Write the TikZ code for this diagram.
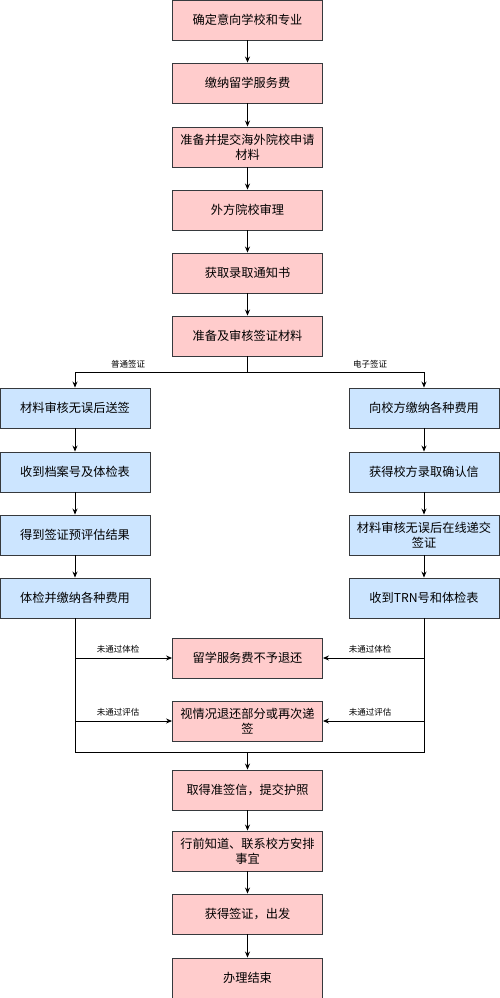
\documentclass[tikz,border=0pt]{standalone}
\usepackage{fontspec}
\setmainfont{Noto Sans CJK SC}
\usetikzlibrary{arrows.meta}
\definecolor{redfill}{HTML}{FFCCCC}
\definecolor{bluefill}{HTML}{CCE5FF}
\definecolor{edge}{HTML}{36393D}

\begin{document}
\begin{tikzpicture}[x=1pt,y=-1pt,
  box/.style={draw=edge,line width=0.9pt,minimum width=150pt,minimum height=40pt,
    align=center,font=\fontsize{12.2}{15}\selectfont,inner sep=1pt},
  redbox/.style={box,fill=redfill},
  bluebox/.style={box,fill=bluefill},
  arr/.style={line width=0.8pt,-{Stealth[length=6pt,width=5pt]}},
  lin/.style={line width=0.8pt},
  lbl/.style={font=\fontsize{8.5}{10}\selectfont}]

\useasboundingbox (0,0) rectangle (500,998);

% Haut
\node[redbox] (c1) at (247.5,20) {确定意向学校和专业};
\node[redbox] (c2) at (247.5,83) {缴纳留学服务费};
\node[redbox] (c3) at (247.5,147) {准备并提交海外院校申请\\材料};
\node[redbox] (c4) at (247.5,210) {外方院校审理};
\node[redbox] (c5) at (247.5,273) {获取录取通知书};
\node[redbox] (c6) at (247.5,336) {准备及审核签证材料};

\draw[arr] (c1) -- (c2);
\draw[arr] (c2) -- (c3);
\draw[arr] (c3) -- (c4);
\draw[arr] (c4) -- (c5);
\draw[arr] (c5) -- (c6);

%普通签证
\node[bluebox] (l1) at (75,408) {材料审核无误后送签};
\node[bluebox] (l2) at (75,472) {收到档案号及体检表};
\node[bluebox] (l3) at (75,535) {得到签证预评估结果};
\node[bluebox] (l4) at (75,598) {体检并缴纳各种费用};

% 电子签证
\node[bluebox] (r1) at (424,408) {向校方缴纳各种费用};
\node[bluebox] (r2) at (424,472) {获得校方录取确认信};
\node[bluebox] (r3) at (424,535) {材料审核无误后在线递交\\签证};
\node[bluebox] (r4) at (424,598) {收到TRN号和体检表};

\coordinate (split) at (247.5,372);
\draw[lin] (c6) -- (split);
\draw[arr] (split) -| (l1);
\draw[arr] (split) -| (r1);
\node[lbl] (tl) at (128,364) {普通签证};
\node[lbl] (tr) at (370,364) {电子签证};

\draw[arr] (l1) -- (l2);
\draw[arr] (l2) -- (l3);
\draw[arr] (l3) -- (l4);
\draw[arr] (r1) -- (r2);
\draw[arr] (r2) -- (r3);
\draw[arr] (r3) -- (r4);

% Refus
\node[redbox] (m1) at (247.5,658) {留学服务费不予退还};
\node[redbox] (m2) at (247.5,721) {视情况退还部分或再次递\\签};

\coordinate (join) at (247.5,752);
\coordinate (lj) at (75,752);
\coordinate (rj) at (424,752);
\draw[lin] (l4) -- (lj) -- (rj) -- (r4);

\coordinate (la) at (75,658);
\coordinate (lb) at (75,721);
\coordinate (ra) at (424,658);
\coordinate (rb) at (424,721);
\draw[arr] (la) -- (m1);
\draw[arr] (lb) -- (m2);
\draw[arr] (ra) -- (m1);
\draw[arr] (rb) -- (m2);

\node[lbl] (t1) at (118,649) {未通过体检};
\node[lbl] (t2) at (118,712) {未通过评估};
\node[lbl] (t3) at (370,649) {未通过体检};
\node[lbl] (t4) at (370,712) {未通过评估};

% Bas
\node[redbox] (c7) at (247.5,790) {取得准签信，提交护照};
\node[redbox] (c8) at (247.5,851) {行前知道、联系校方安排\\事宜};
\node[redbox] (c9) at (247.5,914) {获得签证，出发};
\node[redbox] (c10) at (247.5,978) {办理结束};

\draw[arr] (join) -- (c7);
\draw[arr] (c7) -- (c8);
\draw[arr] (c8) -- (c9);
\draw[arr] (c9) -- (c10);

\end{tikzpicture}
\end{document}
